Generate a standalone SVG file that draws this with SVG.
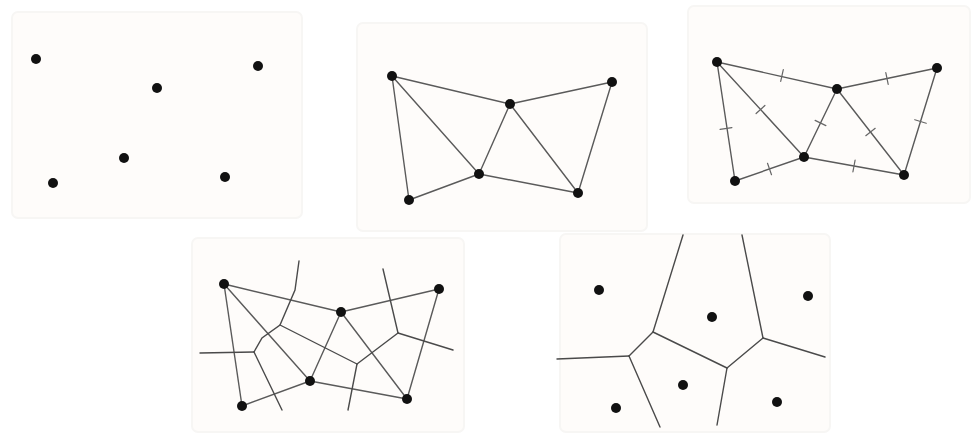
<svg xmlns="http://www.w3.org/2000/svg" width="976" height="435" viewBox="0 0 976 435">
<style>
.panel{fill:#fefcfa;stroke:#f7f6f4;stroke-width:2}
.e{stroke:#5a5a5a;stroke-width:1.4;fill:none;stroke-linecap:round}
.v{stroke:#4a4a4a;stroke-width:1.4;fill:none;stroke-linecap:round}
.t{stroke:#666;stroke-width:1.2;stroke-linecap:round}
.p{fill:#111}
</style>
<rect width="976" height="435" fill="#ffffff"/>

<g id="panel1">
<rect class="panel" x="12" y="12" width="290" height="206" rx="6"/>
<circle class="p" cx="36" cy="59" r="5"/>
<circle class="p" cx="157" cy="88" r="5"/>
<circle class="p" cx="258" cy="66" r="5"/>
<circle class="p" cx="124" cy="158" r="5"/>
<circle class="p" cx="53" cy="183" r="5"/>
<circle class="p" cx="225" cy="177" r="5"/>
</g>

<g id="panel2">
<rect class="panel" x="357" y="23" width="290" height="208" rx="6"/>
<g id="connectors2">
<line class="e" x1="392" y1="76" x2="510" y2="104"/>
<line class="e" x1="510" y1="104" x2="612" y2="82"/>
<line class="e" x1="392" y1="76" x2="409" y2="200"/>
<line class="e" x1="392" y1="76" x2="479" y2="174"/>
<line class="e" x1="479" y1="174" x2="510" y2="104"/>
<line class="e" x1="510" y1="104" x2="578" y2="193"/>
<line class="e" x1="612" y1="82" x2="578" y2="193"/>
<line class="e" x1="409" y1="200" x2="479" y2="174"/>
<line class="e" x1="479" y1="174" x2="578" y2="193"/>
</g>
<circle class="p" cx="392" cy="76" r="5"/>
<circle class="p" cx="510" cy="104" r="5"/>
<circle class="p" cx="612" cy="82" r="5"/>
<circle class="p" cx="479" cy="174" r="5"/>
<circle class="p" cx="409" cy="200" r="5"/>
<circle class="p" cx="578" cy="193" r="5"/>
</g>

<g id="panel3">
<rect class="panel" x="688" y="6" width="282" height="197" rx="6"/>
<g id="connectors3">
<line class="e" x1="717" y1="62" x2="837" y2="89"/>
<line class="e" x1="837" y1="89" x2="937" y2="68"/>
<line class="e" x1="717" y1="62" x2="735" y2="181"/>
<line class="e" x1="717" y1="62" x2="804" y2="157"/>
<line class="e" x1="804" y1="157" x2="837" y2="89"/>
<line class="e" x1="837" y1="89" x2="904" y2="175"/>
<line class="e" x1="937" y1="68" x2="904" y2="175"/>
<line class="e" x1="735" y1="181" x2="804" y2="157"/>
<line class="e" x1="804" y1="157" x2="904" y2="175"/>
</g>
<g id="ticks3">
<line class="t" x1="780.7" y1="81.4" x2="783.3" y2="69.6"/>
<line class="t" x1="888.2" y1="84.4" x2="885.8" y2="72.6"/>
<line class="t" x1="731.9" y1="127.6" x2="720.1" y2="129.4"/>
<line class="t" x1="764.9" y1="105.5" x2="756.1" y2="113.5"/>
<line class="t" x1="825.9" y1="125.6" x2="815.1" y2="120.4"/>
<line class="t" x1="875.2" y1="128.3" x2="865.8" y2="135.7"/>
<line class="t" x1="926.2" y1="123.3" x2="914.8" y2="119.7"/>
<line class="t" x1="771.5" y1="174.7" x2="767.5" y2="163.3"/>
<line class="t" x1="852.9" y1="171.9" x2="855.1" y2="160.1"/>
</g>
<circle class="p" cx="717" cy="62" r="5"/>
<circle class="p" cx="837" cy="89" r="5"/>
<circle class="p" cx="937" cy="68" r="5"/>
<circle class="p" cx="804" cy="157" r="5"/>
<circle class="p" cx="735" cy="181" r="5"/>
<circle class="p" cx="904" cy="175" r="5"/>
</g>

<g id="panel4">
<rect class="panel" x="192" y="238" width="272" height="194" rx="6"/>
<g id="connectors4">
<line class="e" x1="224" y1="284" x2="341" y2="312"/>
<line class="e" x1="341" y1="312" x2="439" y2="289"/>
<line class="e" x1="224" y1="284" x2="242" y2="406"/>
<line class="e" x1="224" y1="284" x2="310" y2="381"/>
<line class="e" x1="310" y1="381" x2="341" y2="312"/>
<line class="e" x1="341" y1="312" x2="407" y2="399"/>
<line class="e" x1="439" y1="289" x2="407" y2="399"/>
<line class="e" x1="242" y1="406" x2="310" y2="381"/>
<line class="e" x1="310" y1="381" x2="407" y2="399"/>
<polyline class="v" points="299,261 295,290 280,325 262,338 254,352"/>
<line class="v" x1="254" y1="352" x2="200" y2="353"/>
<line class="v" x1="254" y1="352" x2="282" y2="410"/>
<line class="v" x1="280" y1="325" x2="357" y2="364"/>
<line class="v" x1="357" y1="364" x2="348" y2="410"/>
<line class="v" x1="357" y1="364" x2="398" y2="333"/>
<line class="v" x1="398" y1="333" x2="383" y2="269"/>
<line class="v" x1="398" y1="333" x2="453" y2="350"/>
</g>
<circle class="p" cx="224" cy="284" r="5"/>
<circle class="p" cx="341" cy="312" r="5"/>
<circle class="p" cx="439" cy="289" r="5"/>
<circle class="p" cx="310" cy="381" r="5"/>
<circle class="p" cx="242" cy="406" r="5"/>
<circle class="p" cx="407" cy="399" r="5"/>
</g>

<g id="panel5">
<rect class="panel" x="560" y="234" width="270" height="198" rx="6"/>
<g id="connectors5">
<line class="v" x1="653" y1="332" x2="683" y2="235"/>
<line class="v" x1="653" y1="332" x2="629" y2="356"/>
<line class="v" x1="629" y1="356" x2="557" y2="359"/>
<line class="v" x1="629" y1="356" x2="660" y2="427"/>
<line class="v" x1="653" y1="332" x2="727" y2="368"/>
<line class="v" x1="727" y1="368" x2="717" y2="425"/>
<line class="v" x1="727" y1="368" x2="763" y2="338"/>
<line class="v" x1="763" y1="338" x2="742" y2="235"/>
<line class="v" x1="763" y1="338" x2="825" y2="357"/>
</g>
<circle class="p" cx="599" cy="290" r="5"/>
<circle class="p" cx="712" cy="317" r="5"/>
<circle class="p" cx="808" cy="296" r="5"/>
<circle class="p" cx="683" cy="385" r="5"/>
<circle class="p" cx="616" cy="408" r="5"/>
<circle class="p" cx="777" cy="402" r="5"/>
</g>
</svg>
